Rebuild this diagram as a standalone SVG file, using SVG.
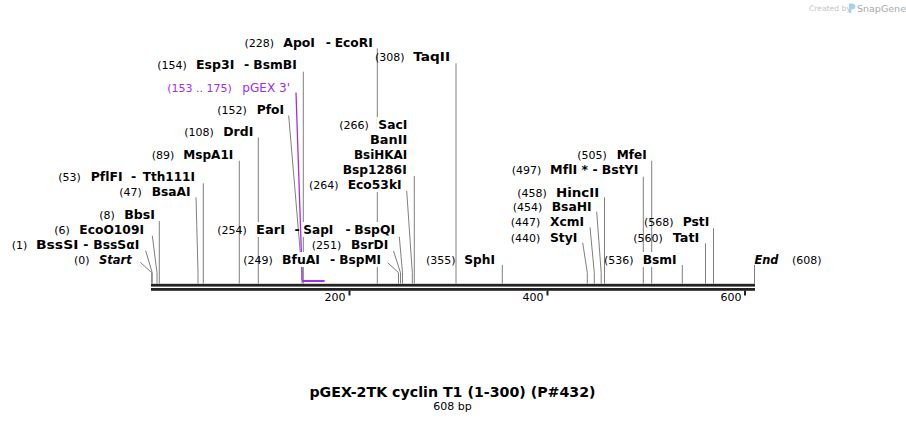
<svg xmlns="http://www.w3.org/2000/svg" width="906" height="423" viewBox="0 0 906 423">
<style>
text{font-family:"DejaVu Sans",Verdana,sans-serif;font-variant-ligatures:none}
.num{font-size:11px;fill:#000}
.nm{font-size:12.5px;font-weight:bold;fill:#000}
.it{font-style:italic}
.bg{fill:#fff}
.ln{fill:none;stroke:#7f7f7f;stroke-width:1}
.pl{fill:none;stroke:#a02ef0;stroke-width:1.3}
.pt{fill:#a02ef0}
.bb{fill:#232323}
.tk{font-size:11px;fill:#000;text-anchor:end}
</style>
<rect width="906" height="423" fill="#fff"/>
<g id="connectors">
<path class="ln" d="M377.3 48.3V283.5"/>
<path class="ln" d="M456 63.3V283.5"/>
<path class="ln" d="M303.3 71.7V283.5"/>
<path class="ln" d="M288.7 115.5L302 272.7V283.5"/>
<path class="ln" d="M258.3 137.5V283.5"/>
<path class="ln" d="M239.3 160.7V283.5"/>
<path class="ln" d="M203.3 183.3V283.5"/>
<path class="ln" d="M196 197.3L198 272.7V283.5"/>
<path class="ln" d="M159.3 221V283.5"/>
<path class="ln" d="M152.3 235.7L157 272.7V283.5"/>
<path class="ln" d="M145.7 250.7L152.2 272.7V283.5"/>
<path class="ln" d="M140.3 262.3L151.7 272.7V283.5"/>
<path class="ln" d="M414.3 176V283.5"/>
<path class="ln" d="M406.7 190.7L412.3 272.7V283.5"/>
<path class="ln" d="M399.3 236.7L402.5 272.7V283.5"/>
<path class="ln" d="M393.5 251L400.5 272.7V283.5"/>
<path class="ln" d="M387.7 262.7L398.5 272.7V283.5"/>
<path class="ln" d="M502.3 265V283.5"/>
<path class="ln" d="M582.7 242.7L587.3 272.7V283.5"/>
<path class="ln" d="M590 227.3L594.3 272.7V283.5"/>
<path class="ln" d="M596.7 211.7L601.2 272.7V283.5"/>
<path class="ln" d="M604.5 197.3V283.5"/>
<path class="ln" d="M643.3 176.7V283.5"/>
<path class="ln" d="M651.7 160.7V283.5"/>
<path class="ln" d="M713.5 228.3V283.5"/>
<path class="ln" d="M705.5 243.3V283.5"/>
<path class="ln" d="M682.3 265V283.5"/>
<path class="ln" d="M754.5 265V283.5"/>
<path class="pl" d="M296 92.5L302 271.7V280"/>
</g>
<g id="backbone">
<rect class="bb" x="151" y="283.8" width="604" height="2.8"/>
<rect class="bb" x="151" y="288" width="604" height="2.8"/>
<rect class="bb" x="348.5" y="290.5" width="2" height="5"/>
<rect class="bb" x="546.5" y="290.5" width="2" height="5"/>
<rect class="bb" x="744" y="290.5" width="2" height="5"/>
<text class="tk" x="345.5" y="300.5">200</text>
<text class="tk" x="543.5" y="300.5">400</text>
<text class="tk" x="741.5" y="300.5">600</text>
</g>
<g id="n-ApoI">
<rect class="bg" x="281.8" y="34.5" width="34.7" height="15"/><rect class="bg" x="333.2" y="34.5" width="41" height="15"/>
<text class="num" x="244.5" y="46.5">(228)</text><text class="nm" x="283.3" y="46.5" textLength="31.7" lengthAdjust="spacingAndGlyphs">ApoI</text><text class="nm" x="325.7" y="46.5">-</text><text class="nm" x="334.7" y="46.5" textLength="38" lengthAdjust="spacingAndGlyphs">EcoRI</text>
</g>
<g id="n-TaqII">
<rect class="bg" x="411.8" y="49" width="39.7" height="15"/>
<text class="num" x="375" y="61">(308)</text><text class="nm" x="413.3" y="61" textLength="36.7" lengthAdjust="spacingAndGlyphs">TaqII</text>
</g>
<g id="n-Esp3I">
<rect class="bg" x="194.5" y="57" width="41.3" height="15"/><rect class="bg" x="251.8" y="57" width="46.4" height="15"/>
<text class="num" x="157.3" y="69">(154)</text><text class="nm" x="196" y="69" textLength="38.3" lengthAdjust="spacingAndGlyphs">Esp3I</text><text class="nm" x="244" y="69">-</text><text class="nm" x="253.3" y="69" textLength="43.4" lengthAdjust="spacingAndGlyphs">BsmBI</text>
</g>
<g id="n-pGEX3">
<text class="num pt" x="167.3" y="91.5">(153 .. 175)</text><text class="pt" x="242.3" y="91.5" font-size="12" textLength="47.7" lengthAdjust="spacingAndGlyphs">pGEX 3'</text>
<rect class="pt" x="302" y="280" width="22.6" height="2"/>
</g>
<g id="n-PfoI">
<rect class="bg" x="255.2" y="102" width="30.3" height="15"/>
<text class="num" x="217.3" y="114">(152)</text><text class="nm" x="256.7" y="114" textLength="27.3" lengthAdjust="spacingAndGlyphs">PfoI</text>
</g>
<g id="n-DrdI">
<rect class="bg" x="221.8" y="124" width="33" height="15"/>
<text class="num" x="184.3" y="136">(108)</text><text class="nm" x="223.3" y="136" textLength="30" lengthAdjust="spacingAndGlyphs">DrdI</text>
</g>
<g id="n-MspA1I">
<rect class="bg" x="181.8" y="147" width="53" height="15"/>
<text class="num" x="151.7" y="159">(89)</text><text class="nm" x="183.3" y="159" textLength="50" lengthAdjust="spacingAndGlyphs">MspA1I</text>
</g>
<g id="n-PflFI">
<rect class="bg" x="89.2" y="168.7" width="35" height="15"/><rect class="bg" x="141.2" y="168.7" width="55.3" height="15"/>
<text class="num" x="58.3" y="180.7">(53)</text><text class="nm" x="90.7" y="180.7" textLength="32" lengthAdjust="spacingAndGlyphs">PflFI</text><text class="nm" x="131" y="180.7">-</text><text class="nm" x="142.7" y="180.7" textLength="52.3" lengthAdjust="spacingAndGlyphs">Tth111I</text>
</g>
<g id="n-BsaAI">
<rect class="bg" x="150.2" y="183.7" width="42" height="15"/>
<text class="num" x="119.3" y="195.7">(47)</text><text class="nm" x="151.7" y="195.7" textLength="39" lengthAdjust="spacingAndGlyphs">BsaAI</text>
</g>
<g id="n-BbsI">
<rect class="bg" x="122.8" y="206.5" width="33.7" height="15"/>
<text class="num" x="99.3" y="218.5">(8)</text><text class="nm" x="124.3" y="218.5" textLength="30.7" lengthAdjust="spacingAndGlyphs">BbsI</text>
</g>
<g id="n-EcoO109I">
<rect class="bg" x="77.8" y="222" width="67.7" height="15"/>
<text class="num" x="54.3" y="234">(6)</text><text class="nm" x="79.3" y="234" textLength="64.7" lengthAdjust="spacingAndGlyphs">EcoO109I</text>
</g>
<g id="n-BssSI">
<rect class="bg" x="34.5" y="237" width="45.3" height="15"/><rect class="bg" x="91.8" y="237" width="49" height="15"/>
<text class="num" x="11.7" y="249">(1)</text><text class="nm" x="36" y="249" textLength="42.3" lengthAdjust="spacingAndGlyphs">BssSI</text><text class="nm" x="83.3" y="249">-</text><text class="nm" x="93.3" y="249" textLength="46" lengthAdjust="spacingAndGlyphs">BssSαI</text>
</g>
<g id="n-Start">
<rect class="bg" x="97.5" y="252" width="35.7" height="15"/>
<text class="num" x="74" y="264">(0)</text><text class="nm it" x="99" y="264" textLength="32.7" lengthAdjust="spacingAndGlyphs">Start</text>
</g>
<g id="n-SacI">
<rect class="bg" x="376.5" y="117" width="32.3" height="15"/><rect class="bg" x="368.5" y="132" width="40.3" height="15"/><rect class="bg" x="352.5" y="147" width="56.3" height="15"/><rect class="bg" x="341.2" y="162" width="67" height="15"/>
<text class="num" x="339.3" y="129">(266)</text>
<text class="nm" x="378.3" y="129" textLength="29" lengthAdjust="spacingAndGlyphs">SacI</text>
<text class="nm" x="370" y="144" textLength="37.3" lengthAdjust="spacingAndGlyphs">BanII</text>
<text class="nm" x="354" y="159" textLength="53.3" lengthAdjust="spacingAndGlyphs">BsiHKAI</text>
<text class="nm" x="342.7" y="174" textLength="64" lengthAdjust="spacingAndGlyphs">Bsp1286I</text>
</g>
<g id="n-Eco53kI">
<rect class="bg" x="346.2" y="177" width="57" height="15"/>
<text class="num" x="309" y="189">(264)</text><text class="nm" x="347.7" y="189" textLength="54" lengthAdjust="spacingAndGlyphs">Eco53kI</text>
</g>
<g id="n-EarI">
<rect class="bg" x="254.5" y="222" width="32" height="15"/><rect class="bg" x="302" y="222" width="32.8" height="15"/><rect class="bg" x="352.8" y="222" width="43.7" height="15"/>
<text class="num" x="217.3" y="234">(254)</text><text class="nm" x="256" y="234" textLength="29" lengthAdjust="spacingAndGlyphs">EarI</text><text class="nm" x="294.5" y="234">-</text><text class="nm" x="303.3" y="234" textLength="30" lengthAdjust="spacingAndGlyphs">SapI</text><text class="nm" x="345.5" y="234">-</text><text class="nm" x="354.3" y="234" textLength="40.7" lengthAdjust="spacingAndGlyphs">BspQI</text>
</g>
<g id="n-BsrDI">
<rect class="bg" x="349.5" y="237" width="40.3" height="15"/>
<text class="num" x="311.7" y="249">(251)</text><text class="nm" x="351" y="249" textLength="37.3" lengthAdjust="spacingAndGlyphs">BsrDI</text>
</g>
<g id="n-BfuAI">
<rect class="bg" x="280.5" y="252" width="41" height="15"/><rect class="bg" x="337.8" y="252" width="44.7" height="15"/>
<text class="num" x="243.3" y="264">(249)</text><text class="nm" x="282" y="264" textLength="38" lengthAdjust="spacingAndGlyphs">BfuAI</text><text class="nm" x="330" y="264">-</text><text class="nm" x="339.3" y="264" textLength="41.7" lengthAdjust="spacingAndGlyphs">BspMI</text>
</g>
<g id="n-SphI">
<rect class="bg" x="462.8" y="252" width="33.7" height="15"/>
<text class="num" x="426" y="264">(355)</text><text class="nm" x="464.3" y="264" textLength="30.7" lengthAdjust="spacingAndGlyphs">SphI</text>
</g>
<g id="n-StyI">
<rect class="bg" x="548.5" y="229.5" width="30.3" height="15"/>
<text class="num" x="510.7" y="241.5">(440)</text><text class="nm" x="550" y="241.5" textLength="27.3" lengthAdjust="spacingAndGlyphs">StyI</text>
</g>
<g id="n-XcmI">
<rect class="bg" x="548.5" y="214" width="37" height="15"/>
<text class="num" x="510.7" y="226">(447)</text><text class="nm" x="550" y="226" textLength="34" lengthAdjust="spacingAndGlyphs">XcmI</text>
</g>
<g id="n-BsaHI">
<rect class="bg" x="550.2" y="199" width="43" height="15"/>
<text class="num" x="512.7" y="211">(454)</text><text class="nm" x="551.7" y="211" textLength="40" lengthAdjust="spacingAndGlyphs">BsaHI</text>
</g>
<g id="n-HincII">
<rect class="bg" x="554.5" y="184.5" width="46.3" height="15"/>
<text class="num" x="517.3" y="196.5">(458)</text><text class="nm" x="556" y="196.5" textLength="43.3" lengthAdjust="spacingAndGlyphs">HincII</text>
</g>
<g id="n-MflI">
<rect class="bg" x="548.5" y="162" width="30.3" height="15"/><rect class="bg" x="600.2" y="162" width="39.6" height="15"/>
<text class="num" x="511.7" y="174">(497)</text><text class="nm" x="550" y="174" textLength="27.3" lengthAdjust="spacingAndGlyphs">MflI</text><text class="nm" x="581.5" y="174">*</text><text class="nm" x="592.5" y="174">-</text><text class="nm" x="601.7" y="174" textLength="36.6" lengthAdjust="spacingAndGlyphs">BstYI</text>
</g>
<g id="n-MfeI">
<rect class="bg" x="615.2" y="147" width="33" height="15"/>
<text class="num" x="577.3" y="159">(505)</text><text class="nm" x="616.7" y="159" textLength="30" lengthAdjust="spacingAndGlyphs">MfeI</text>
</g>
<g id="n-PstI">
<rect class="bg" x="681.2" y="214" width="29.6" height="15"/>
<text class="num" x="644" y="226">(568)</text><text class="nm" x="682.7" y="226" textLength="26.6" lengthAdjust="spacingAndGlyphs">PstI</text>
</g>
<g id="n-TatI">
<rect class="bg" x="671.2" y="229.5" width="29.6" height="15"/>
<text class="num" x="633.3" y="241.5">(560)</text><text class="nm" x="672.7" y="241.5" textLength="26.6" lengthAdjust="spacingAndGlyphs">TatI</text>
</g>
<g id="n-BsmI">
<rect class="bg" x="641.2" y="252" width="37" height="15"/>
<text class="num" x="604" y="264">(536)</text><text class="nm" x="642.7" y="264" textLength="34" lengthAdjust="spacingAndGlyphs">BsmI</text>
</g>
<g id="n-End">
<text class="nm it" x="754.5" y="264" textLength="24" lengthAdjust="spacingAndGlyphs">End</text><text class="num" x="792" y="264">(608)</text>
</g>
<g id="title">
<text x="452.5" y="396.5" font-size="14.2" font-weight="bold" text-anchor="middle" fill="#000">pGEX-2TK cyclin T1 (1-300) (P#432)</text>
<text x="452.5" y="410" font-size="11" text-anchor="middle" fill="#000">608 bp</text>
</g>
<g id="logo">
<text x="809" y="11" font-family="Liberation Sans, Arial, sans-serif" font-size="7.6" fill="#c4c4c4">Created by</text>
<path d="M849 3.5h2.2v9.5h-2.2z M851.2 3.5c3 0 4.2 1.4 4.2 3s-1.2 3-4.2 3z" fill="#9fd3ef"/>
<text x="857" y="12" font-family="Liberation Sans, Arial, sans-serif" font-size="9.5" fill="#aaaaaa">SnapGene</text>
</g>
</svg>
